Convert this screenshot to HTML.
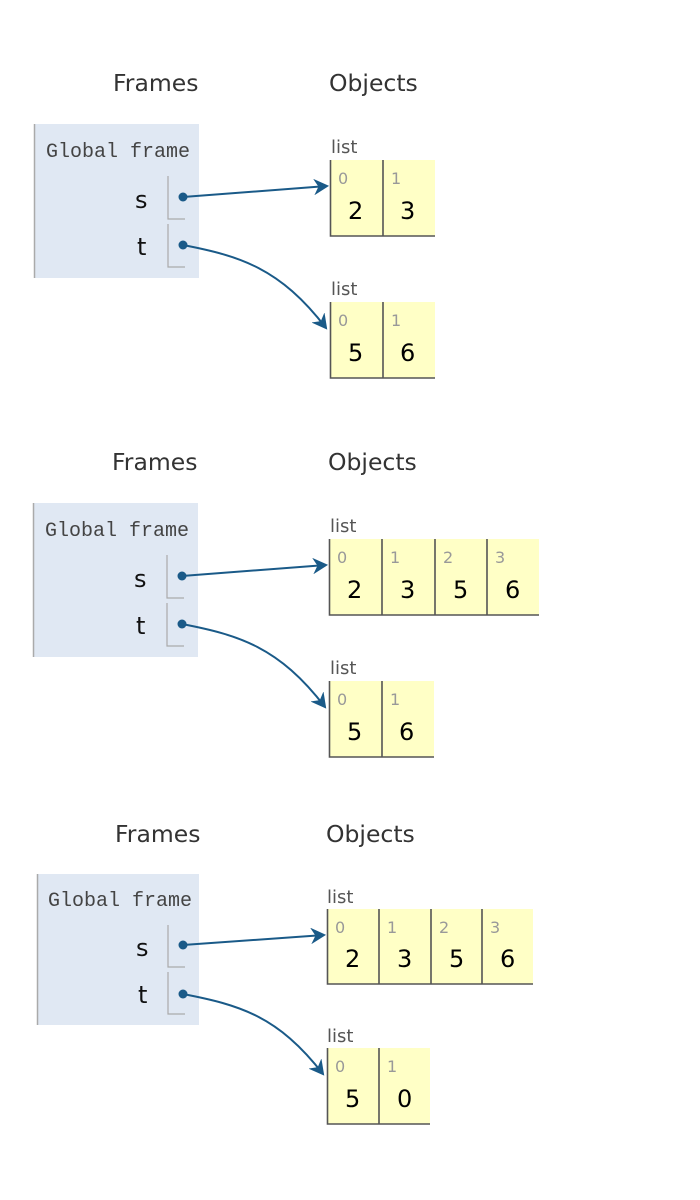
<!DOCTYPE html>
<html><head><meta charset="utf-8"><style>
html,body{margin:0;padding:0;background:#fff;width:700px;height:1200px;overflow:hidden}
.h{font-family:"DejaVu Sans","Liberation Sans",sans-serif;font-size:23.5px;fill:#333}
.g{font-family:"Liberation Mono",monospace;font-size:20px;fill:#444}
.v{font-family:"DejaVu Sans","Liberation Sans",sans-serif;font-size:24px;fill:#000}
.n{font-family:"DejaVu Sans","Liberation Sans",sans-serif;font-size:24px;fill:#111}
.l{font-family:"DejaVu Sans","Liberation Sans",sans-serif;font-size:18px;fill:#555}
.i{font-family:"DejaVu Sans","Liberation Sans",sans-serif;font-size:16px;fill:#999}
.c{fill:#ffffc6}
.b{stroke:#555;stroke-width:1.6;fill:none}
.p{stroke:#aaa;stroke-width:1.2;fill:none}
.a{stroke:#1a5a88;stroke-width:2;fill:none}
</style></head><body>
<svg width="700" height="1200" viewBox="0 0 700 1200" xmlns="http://www.w3.org/2000/svg">
<defs>
<marker id="ar" markerWidth="16" markerHeight="16" refX="13" refY="8" orient="auto" markerUnits="userSpaceOnUse">
<path d="M1,1 L14,8 L1,15 L5,8 Z" fill="#1a5a88" stroke="#1a5a88" stroke-width="1"/>
</marker>
</defs>

<!-- Panel 1 -->
<text class="h" x="113" y="91">Frames</text>
<text class="h" x="329" y="91">Objects</text>
<rect x="34" y="124" width="165" height="154" fill="#e0e8f3"/>
<line x1="34.5" y1="124" x2="34.5" y2="278" stroke="#aaa" stroke-width="1.5"/>
<text class="g" x="46" y="157">Global frame</text>
<text class="n" x="135" y="208">s</text>
<text class="n" x="137" y="255">t</text>
<path class="p" d="M168,176 V219 H185"/>
<path class="p" d="M168,224 V267 H185"/>
<circle cx="183" cy="197" r="4.5" fill="#1a5a88"/>
<circle cx="183" cy="245" r="4.5" fill="#1a5a88"/>
<path class="a" d="M183,197 L327,186" marker-end="url(#ar)"/>
<path class="a" d="M183,245 C240,256 280,268 326,328" marker-end="url(#ar)"/>
<text class="l" x="331" y="153">list</text>
<rect class="c" x="330" y="160" width="105" height="76"/>
<path class="b" d="M330.5,160 V236 H435 M383,160 V236"/>
<text class="i" x="338" y="184">0</text><text class="i" x="391" y="184">1</text>
<text class="v" x="348" y="219">2</text><text class="v" x="400" y="219">3</text>
<text class="l" x="331" y="295">list</text>
<rect class="c" x="330" y="302" width="105" height="76"/>
<path class="b" d="M330.5,302 V378 H435 M383,302 V378"/>
<text class="i" x="338" y="326">0</text><text class="i" x="391" y="326">1</text>
<text class="v" x="348" y="361">5</text><text class="v" x="400" y="361">6</text>

<!-- Panel 2 -->
<text class="h" x="112" y="470">Frames</text>
<text class="h" x="328" y="470">Objects</text>
<rect x="33" y="503" width="165" height="154" fill="#e0e8f3"/>
<line x1="33.5" y1="503" x2="33.5" y2="657" stroke="#aaa" stroke-width="1.5"/>
<text class="g" x="45" y="536">Global frame</text>
<text class="n" x="134" y="587">s</text>
<text class="n" x="136" y="634">t</text>
<path class="p" d="M167,555 V598 H184"/>
<path class="p" d="M167,603 V646 H184"/>
<circle cx="182" cy="576" r="4.5" fill="#1a5a88"/>
<circle cx="182" cy="624" r="4.5" fill="#1a5a88"/>
<path class="a" d="M182,576 L326,565" marker-end="url(#ar)"/>
<path class="a" d="M182,624 C239,635 279,647 325,707" marker-end="url(#ar)"/>
<text class="l" x="330" y="532">list</text>
<rect class="c" x="329" y="539" width="210" height="76"/>
<path class="b" d="M329.5,539 V615 H539 M382,539 V615 M435,539 V615 M487,539 V615"/>
<text class="i" x="337" y="563">0</text><text class="i" x="390" y="563">1</text><text class="i" x="443" y="563">2</text><text class="i" x="495" y="563">3</text>
<text class="v" x="347" y="598">2</text><text class="v" x="400" y="598">3</text><text class="v" x="453" y="598">5</text><text class="v" x="505" y="598">6</text>
<text class="l" x="330" y="674">list</text>
<rect class="c" x="329" y="681" width="105" height="76"/>
<path class="b" d="M329.5,681 V757 H434 M382,681 V757"/>
<text class="i" x="337" y="705">0</text><text class="i" x="390" y="705">1</text>
<text class="v" x="347" y="740">5</text><text class="v" x="399" y="740">6</text>

<!-- Panel 3 -->
<text class="h" x="115" y="842">Frames</text>
<text class="h" x="326" y="842">Objects</text>
<rect x="37" y="874" width="162" height="151" fill="#e0e8f3"/>
<line x1="37.5" y1="874" x2="37.5" y2="1025" stroke="#aaa" stroke-width="1.5"/>
<text class="g" x="48" y="906">Global frame</text>
<text class="n" x="136" y="956">s</text>
<text class="n" x="138" y="1003">t</text>
<path class="p" d="M168,925 V967 H185"/>
<path class="p" d="M168,972 V1014 H185"/>
<circle cx="183" cy="945" r="4.5" fill="#1a5a88"/>
<circle cx="183" cy="994" r="4.5" fill="#1a5a88"/>
<path class="a" d="M183,945 L324,935" marker-end="url(#ar)"/>
<path class="a" d="M183,994 C240,1005 278,1016 323,1074" marker-end="url(#ar)"/>
<text class="l" x="327" y="903">list</text>
<rect class="c" x="327" y="909" width="206" height="75"/>
<path class="b" d="M327.5,909 V984 H533 M379,909 V984 M431,909 V984 M482,909 V984"/>
<text class="i" x="335" y="933">0</text><text class="i" x="387" y="933">1</text><text class="i" x="439" y="933">2</text><text class="i" x="490" y="933">3</text>
<text class="v" x="345" y="967">2</text><text class="v" x="397" y="967">3</text><text class="v" x="449" y="967">5</text><text class="v" x="500" y="967">6</text>
<text class="l" x="327" y="1042">list</text>
<rect class="c" x="327" y="1048" width="103" height="76"/>
<path class="b" d="M327.5,1048 V1124 H430 M379,1048 V1124"/>
<text class="i" x="335" y="1072">0</text><text class="i" x="387" y="1072">1</text>
<text class="v" x="345" y="1107">5</text><text class="v" x="397" y="1107">0</text>
</svg>
</body></html>
